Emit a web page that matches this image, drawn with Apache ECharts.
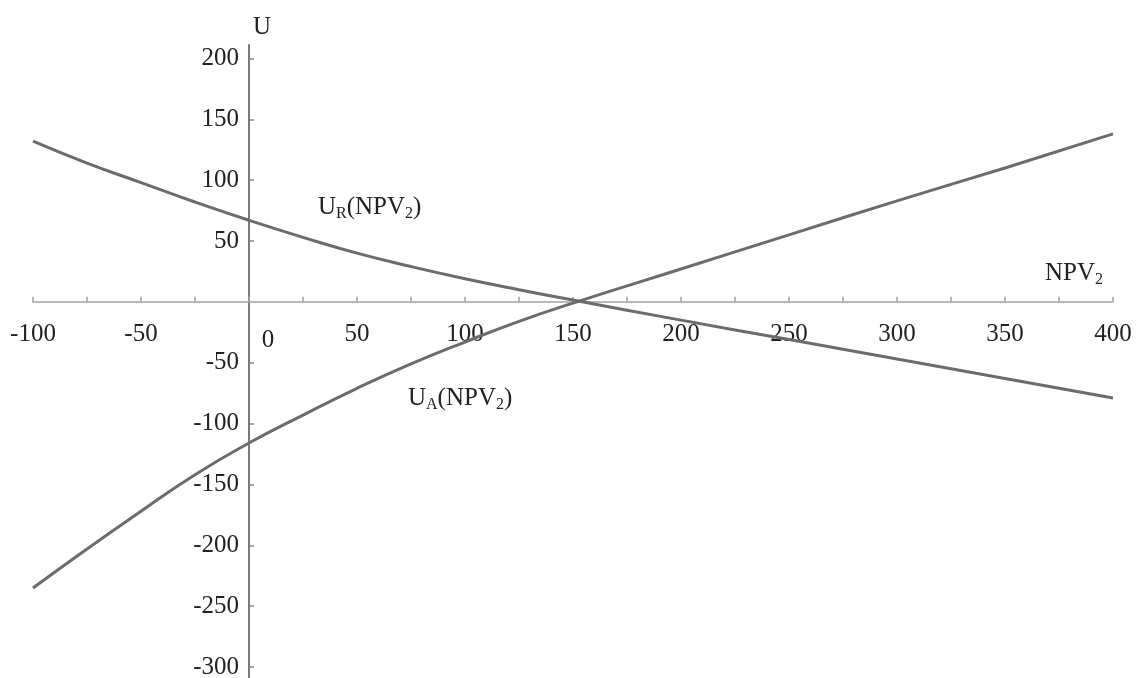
<!DOCTYPE html>
<html>
<head>
<meta charset="utf-8">
<title>U(NPV2)</title>
<script src="https://cdn.jsdelivr.net/npm/echarts@6/dist/echarts.min.js"></script>
<style>
  html, body { margin: 0; padding: 0; background: #fff; }
  #chart { width: 1136px; height: 678px; }
</style>
</head>
<body>
<div id="chart"></div>
<script>
const npv = [-100, -75, -50, -25, 0, 25, 50, 75, 100, 125, 150, 200, 250, 300, 350, 400];
// U_R(NPV2)
const uR = [132, 114, 98, 82, 67, 53, 40, 29, 19, 10, 1.5, -15, -31, -47, -63, -79];
// U_A(NPV2)
const uA = [-235, -203, -172, -142, -116, -93, -71, -51, -33, -16, -1, 27, 55, 83, 110, 138];

// axis marks
const xTicks = [-100, -75, -50, -25, 0, 25, 50, 75, 100, 125, 150, 175, 200, 225, 250, 275, 300, 325, 350, 375, 400];
const xLabels = [-100, -50, 0, 50, 100, 150, 200, 250, 300, 350, 400];
const yLabels = [-300, -250, -200, -150, -100, -50, 50, 100, 150, 200];

const xMin = -100, xMax = 400;
const yMin = -309, yMax = 211;

const W = 1136, H = 678;
const grid = { left: 33, right: 23, top: 45, bottom: 0 };
const gridW = W - grid.left - grid.right;
const gridH = H - grid.top - grid.bottom;

// the axes cross at the origin: shift each one from the grid edge to the zero of the other
const xAxisOffset = -((0 - yMin) / (yMax - yMin)) * gridH;
const yAxisOffset = -((0 - xMin) / (xMax - xMin)) * gridW;

const font = 'Liberation Serif';
const textColor = '#222';
const curveColor = '#6c6c6c';

const rich = {
  m: { fontSize: 25, fontFamily: font, fontWeight: 'normal', color: textColor, lineHeight: 30 },
  s: { fontSize: 16, fontFamily: font, fontWeight: 'normal', color: textColor, lineHeight: 16, verticalAlign: 'bottom' }
};
const titleStyle = { fontWeight: 'normal', fontFamily: font, rich };

const toPairs = (ys) => npv.map((x, i) => [x, ys[i]]);

const chart = echarts.init(document.getElementById('chart'));

const option = {
  animation: false,
  backgroundColor: '#fff',
  title: [
    { text: '{m|U}{s|R}{m|(NPV}{s|2}{m|)}', left: 318, top: 192, padding: 0, textStyle: titleStyle },
    { text: '{m|U}{s|A}{m|(NPV}{s|2}{m|)}', left: 408, top: 383, padding: 0, textStyle: titleStyle },
    { text: '{m|NPV}{s|2}', left: 1045, top: 258, padding: 0, textStyle: titleStyle }
  ],
  grid: {
    left: grid.left,
    right: grid.right,
    top: grid.top,
    bottom: grid.bottom,
    containLabel: false,
    outerBoundsMode: 'none'
  },
  xAxis: {
    type: 'value',
    position: 'bottom',
    offset: xAxisOffset,
    min: xMin,
    max: xMax,
    interval: 50,
    axisLine: { onZero: false, lineStyle: { color: '#a3a3a3', width: 1.5 } },
    axisTick: {
      show: true,
      inside: true,
      length: 5,
      customValues: xTicks,
      lineStyle: { color: '#a3a3a3', width: 1.5 }
    },
    axisLabel: {
      customValues: xLabels,
      margin: 20,
      fontSize: 25,
      fontFamily: font,
      color: textColor,
      formatter: (v) => (v === 0 ? '{z|0}' : String(v)),
      rich: {
        z: { fontSize: 25, fontFamily: font, color: textColor, padding: [6, 0, 0, 38] }
      }
    },
    splitLine: { show: false }
  },
  yAxis: {
    type: 'value',
    position: 'left',
    offset: yAxisOffset,
    min: yMin,
    max: yMax,
    name: 'U',
    nameLocation: 'end',
    nameGap: 5,
    nameTextStyle: {
      fontSize: 25,
      fontFamily: font,
      color: textColor,
      padding: [0, 0, 0, 26]
    },
    axisLine: { onZero: false, lineStyle: { color: '#7a7a7a', width: 2 } },
    axisTick: {
      show: true,
      inside: true,
      length: 5,
      customValues: yLabels,
      lineStyle: { color: '#8a8a8a', width: 1.5 }
    },
    axisLabel: {
      customValues: yLabels,
      margin: 10,
      fontSize: 25,
      fontFamily: font,
      color: textColor
    },
    splitLine: { show: false }
  },
  series: [
    {
      name: 'U_R',
      type: 'line',
      data: toPairs(uR),
      smooth: true,
      symbol: 'none',
      silent: true,
      lineStyle: { color: curveColor, width: 3 }
    },
    {
      name: 'U_A',
      type: 'line',
      data: toPairs(uA),
      smooth: true,
      symbol: 'none',
      silent: true,
      lineStyle: { color: curveColor, width: 3 }
    }
  ]
};

chart.setOption(option);
</script>
</body>
</html>
